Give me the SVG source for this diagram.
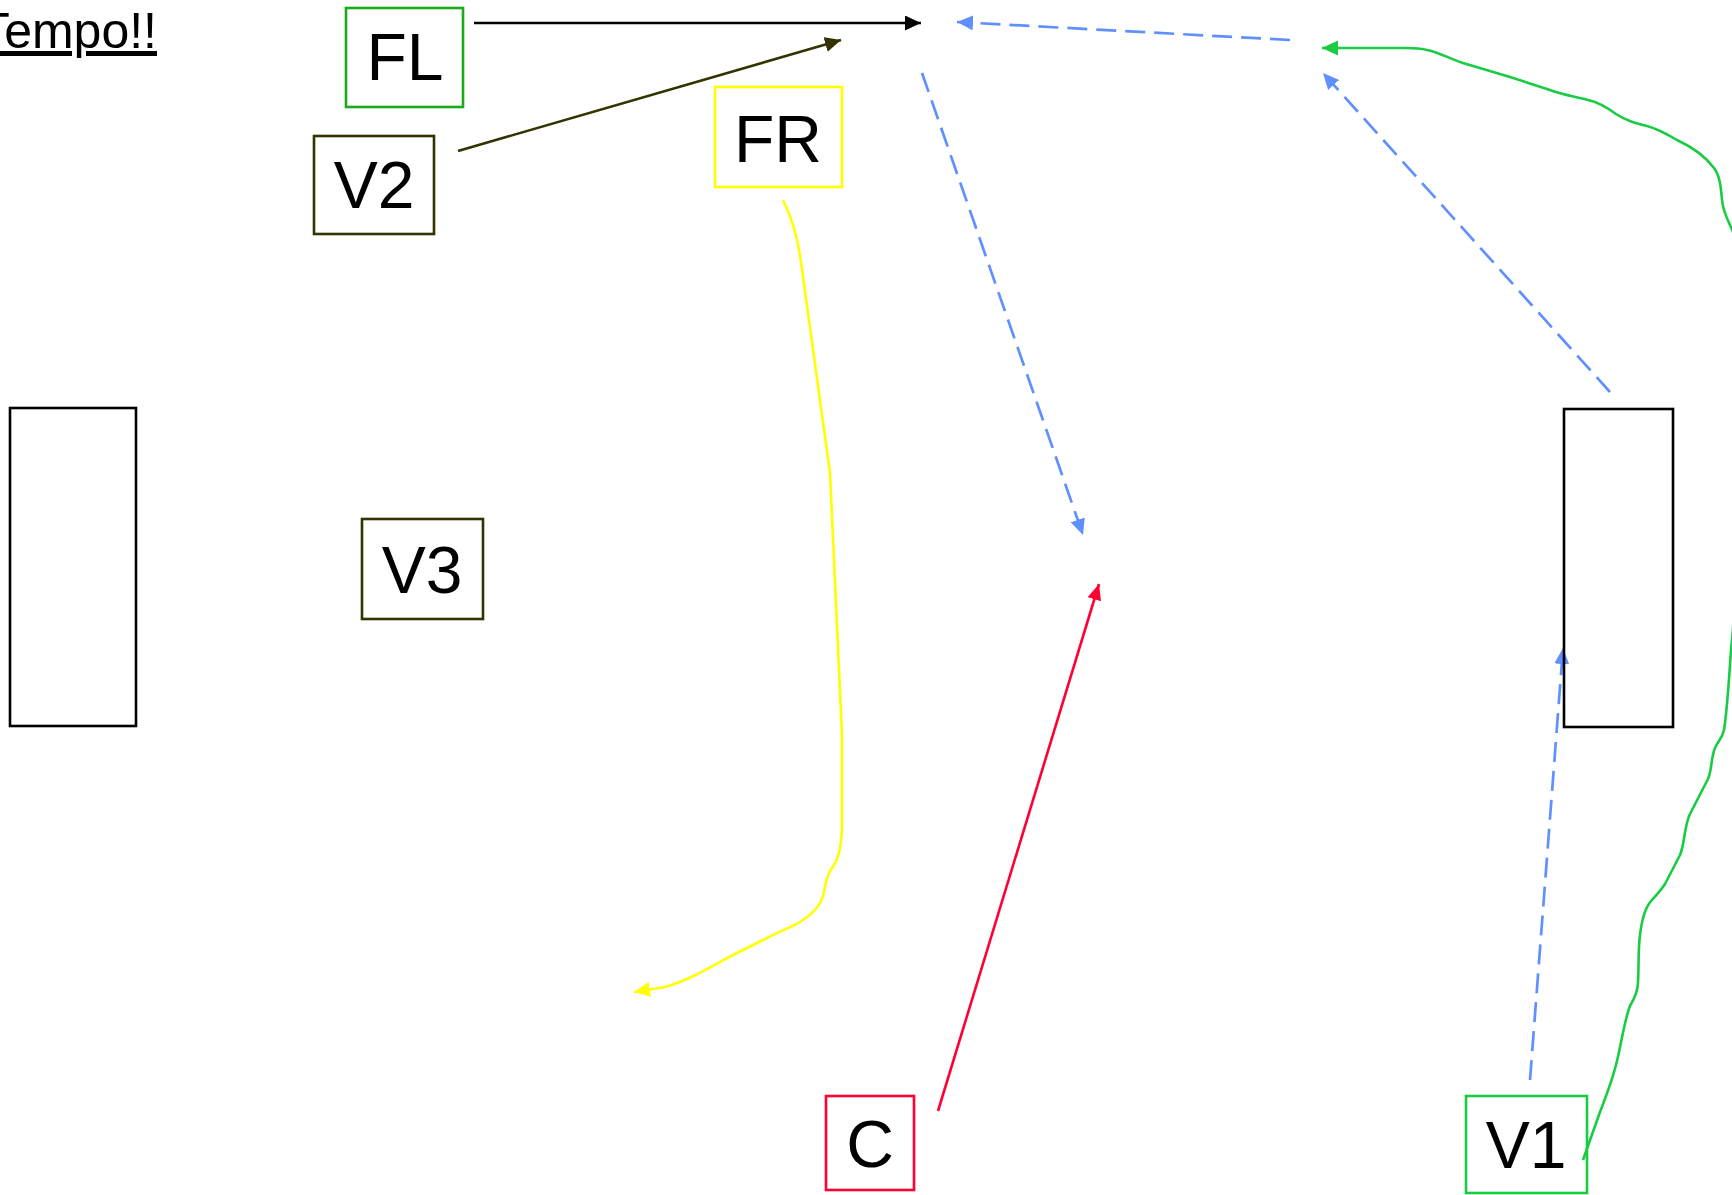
<svg xmlns="http://www.w3.org/2000/svg" width="1732" height="1195" viewBox="0 0 1732 1195">
<style>
.box{fill:none;stroke-width:2.6}
.lbl{font-family:"Liberation Sans",Arial,sans-serif;font-size:66px;text-anchor:middle;fill:#000}
.ln{fill:none;stroke-width:2.6}
.dash{fill:none;stroke:#6090ff;stroke-width:2.7;stroke-dasharray:20 9}
</style>
<defs>
<marker id="ahBlack" markerUnits="userSpaceOnUse" markerWidth="17" markerHeight="16" refX="16" refY="7.5" orient="auto"><path d="M0,0 L16,7.5 L0,15 z" fill="#000"/></marker>
<marker id="ahOlive" markerUnits="userSpaceOnUse" markerWidth="17" markerHeight="16" refX="16" refY="7.5" orient="auto"><path d="M0,0 L16,7.5 L0,15 z" fill="#333300"/></marker>
<marker id="ahBlue" markerUnits="userSpaceOnUse" markerWidth="17" markerHeight="16" refX="16" refY="7.5" orient="auto"><path d="M0,0 L16,7.5 L0,15 z" fill="#6090ff"/></marker>
<marker id="ahRed" markerUnits="userSpaceOnUse" markerWidth="17" markerHeight="16" refX="16" refY="7" orient="auto"><path d="M0,0 L16,7 L0,14 z" fill="#ff0033"/></marker>
<marker id="ahYellow" markerUnits="userSpaceOnUse" markerWidth="17" markerHeight="16" refX="16" refY="7.5" orient="auto"><path d="M0,0 L16,7.5 L0,15 z" fill="#ffff00"/></marker>
<marker id="ahGreen" markerUnits="userSpaceOnUse" markerWidth="17" markerHeight="16" refX="16" refY="7.5" orient="auto"><path d="M0,0 L16,7.5 L0,15 z" fill="#18cc44"/></marker>
</defs>
<rect width="1732" height="1195" fill="#fff"/>

<g id="title">
<text x="157" y="48" font-family="Liberation Sans, Arial, sans-serif" font-size="50" text-anchor="end" text-decoration="underline" fill="#000">Tempo!!</text>
</g>

<g id="connectors">
<path class="ln" stroke="#000" d="M474,23 L921,23" marker-end="url(#ahBlack)"/>
<path class="ln" stroke="#333300" d="M458,151 L841,40" marker-end="url(#ahOlive)"/>
<path class="dash" d="M1290,40 L957,22" marker-end="url(#ahBlue)"/>
<path class="dash" d="M922,73 L1083,535" marker-end="url(#ahBlue)"/>
<path class="dash" d="M1610,392 L1323,73" marker-end="url(#ahBlue)"/>
<path class="dash" d="M1530,1080 L1563,648" marker-end="url(#ahBlue)"/>
<path class="ln" stroke="#ff0033" d="M938,1111 L1099,584" marker-end="url(#ahRed)"/>
<path class="ln" stroke="#ffff00" stroke-width="3" d="M783,200 C792,218 798,240 801,262 L830,473 L842,735 L842,828 C841,850 838,860 832,868 C826,876 826,884 823,896 C820,906 813,914 800,922 C790,928 778,932 767,938 L733,955 C712,966 690,980 665,987 L634,992" marker-end="url(#ahYellow)"/>
<path class="ln" stroke="#18cc44" stroke-width="2.8" stroke-linejoin="round" d="M1583,1160 L1600,1112 C1607,1094 1613,1078 1617,1061 C1622,1040 1625,1018 1630,1006 C1636,996 1638,990 1638,982 C1639,965 1638,950 1640,935 C1642,918 1645,908 1651,901 C1656,895 1660,892 1665,884 L1680,855 C1685,843 1684,826 1690,814 L1708,779 C1712,770 1711,757 1715,748 C1718,741 1722,739 1724,730 C1727,712 1729,680 1731,650 C1740,560 1746,400 1744,300 C1742,262 1738,245 1733,232 C1728,220 1723,212 1722,200 C1721,188 1720,176 1714,168 C1705,156 1690,146 1677,140 C1665,133 1655,128 1647,126 C1635,123 1627,121 1616,114 C1605,106 1598,102 1588,100 C1572,96 1560,94 1550,90 L1510,77 L1463,63 C1448,58 1438,52 1427,50 C1420,48 1415,48 1405,48 L1322,48" marker-end="url(#ahGreen)"/>
</g>

<g id="node-FL">
<rect class="box" x="346" y="8" width="117" height="99" stroke="#1aaa1a"/>
<text class="lbl" x="405" y="80">FL</text>
</g>
<g id="node-V2">
<rect class="box" x="314" y="136" width="120" height="98" stroke="#333300"/>
<text class="lbl" x="374" y="208">V2</text>
</g>
<g id="node-FR">
<rect class="box" x="715" y="87" width="127" height="100" stroke="#ffff00"/>
<text class="lbl" x="778" y="162">FR</text>
</g>
<g id="node-V3">
<rect class="box" x="362" y="519" width="121" height="100" stroke="#333300"/>
<text class="lbl" x="422" y="593">V3</text>
</g>
<g id="node-left">
<rect class="box" x="10" y="408" width="126" height="318" stroke="#000"/>
</g>
<g id="node-right">
<rect class="box" x="1564" y="409" width="109" height="318" stroke="#000"/>
</g>
<g id="node-C">
<rect class="box" x="826" y="1096" width="88" height="94" stroke="#ff0033"/>
<text class="lbl" x="870" y="1167">C</text>
</g>
<g id="node-V1">
<rect class="box" x="1466" y="1096" width="121" height="97" stroke="#18cc44"/>
<text class="lbl" x="1526" y="1168">V1</text>
</g>
</svg>
